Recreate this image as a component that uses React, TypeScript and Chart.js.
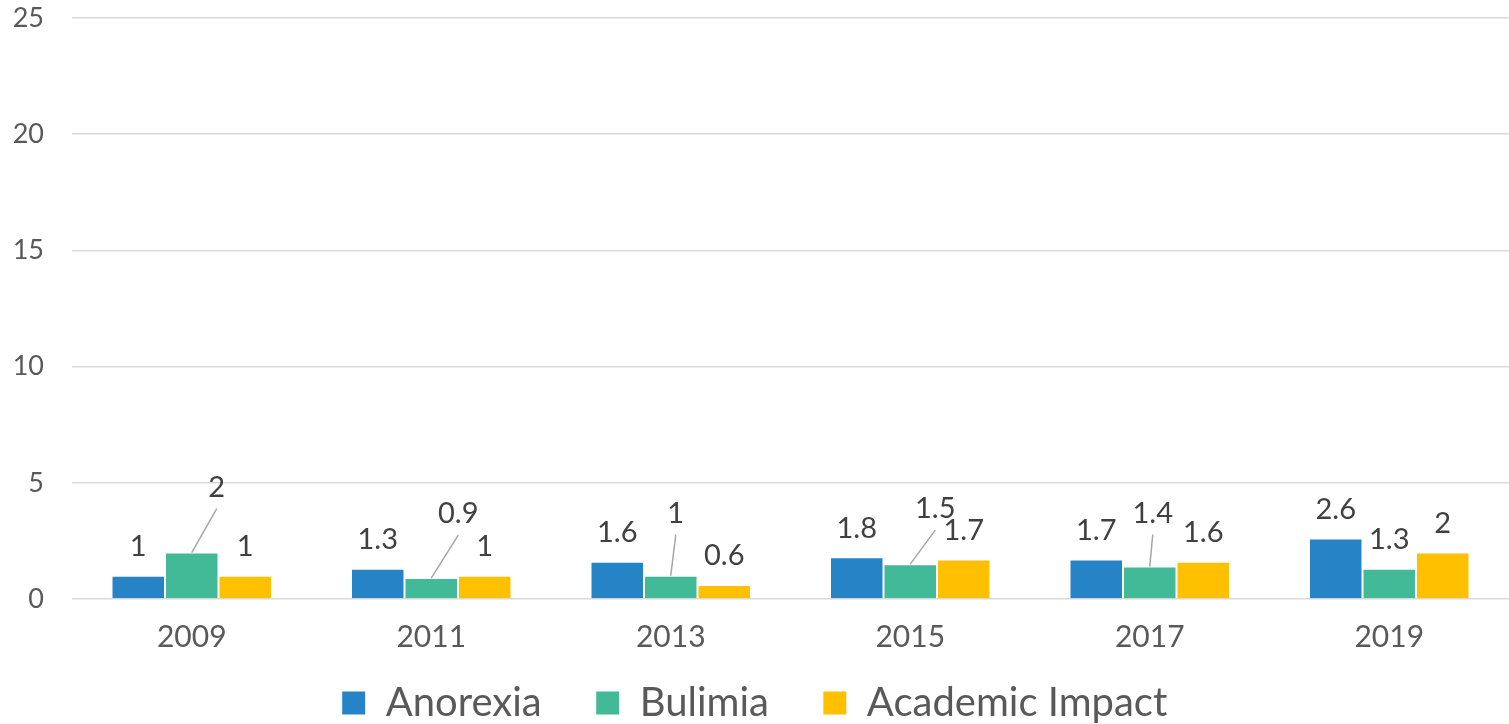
import React, { useEffect, useRef } from "react";
import { Chart, registerables } from "chart.js";

Chart.register(...registerables);

const categories = ["2009", "2011", "2013", "2015", "2017", "2019"];
const anorexia = [1, 1.3, 1.6, 1.8, 1.7, 2.6];
const bulimia = [2, 0.9, 1, 1.5, 1.4, 1.3];
const academicImpact = [1, 1, 0.6, 1.7, 1.6, 2];
const yTicks = [0, 5, 10, 15, 20, 25];

// manual label displacement (px) per dataset, as in the original (leader lines)
const labelOffsets: number[][][] = [
  [[0, 0], [0, 0], [0, 0], [0, 0], [0, 0], [0, 0]],
  [[25, -36], [27, -35], [5, -33], [25, -26], [3, -24], [0, 0]],
  [[0, 0], [0, 0], [0, 0], [0, 0], [0, 0], [0, 0]],
];

const FONT = "Lato, 'Open Sans', sans-serif";

const barLabels = {
  id: "barLabels",
  afterDatasetsDraw(chart: any) {
    const ctx = chart.ctx;
    ctx.save();
    ctx.font = `29px ${FONT}`;
    ctx.textAlign = "center";
    ctx.textBaseline = "middle";
    chart.data.datasets.forEach((ds: any, di: number) => {
      const meta = chart.getDatasetMeta(di);
      meta.data.forEach((bar: any, i: number) => {
        const v = ds.data[i];
        const off = labelOffsets[di][i];
        const x = bar.x + off[0];
        const y = bar.y - 29 + off[1];
        if (off[0] !== 0 || off[1] !== 0) {
          ctx.strokeStyle = "#a6a6a6";
          ctx.lineWidth = 1.5;
          ctx.beginPath();
          ctx.moveTo(bar.x, bar.y);
          ctx.lineTo(x, y + 21);
          ctx.stroke();
        }
        ctx.fillStyle = "#404040";
        ctx.fillText(String(v), x, y);
      });
    });
    ctx.restore();
  },
};

export default function App() {
  const ref = useRef<HTMLCanvasElement | null>(null);
  useEffect(() => {
    if (!ref.current) return;
    const chart = new Chart(ref.current, {
      type: "bar",
      data: {
        labels: categories,
        datasets: [
          { label: "Anorexia", data: anorexia, backgroundColor: "#2683C6", borderColor: "#ffffff", borderWidth: 1 },
          { label: "Bulimia", data: bulimia, backgroundColor: "#42BA97", borderColor: "#ffffff", borderWidth: 1 },
          { label: "Academic Impact", data: academicImpact, backgroundColor: "#FFC000", borderColor: "#ffffff", borderWidth: 1 },
        ],
      },
      options: {
        animation: false,
        responsive: true,
        maintainAspectRatio: false,
        datasets: { bar: { categoryPercentage: 0.67, barPercentage: 1 } },
        layout: { padding: { top: 0, left: 0, right: 0, bottom: -9 } },
        scales: {
          x: {
            grid: { display: false, drawTicks: false },
            border: { display: false },
            ticks: { color: "#595959", font: { size: 30, family: FONT }, padding: 20 },
            afterFit: (s: any) => {
              s.height = 30;
              s.paddingLeft = 0;
              s.paddingRight = 0;
              // let the tick labels extend below the (short) axis box
              s._computeLabelArea = () => undefined;
            },
          },
          y: {
            min: 0,
            max: 25,
            afterBuildTicks: (s: any) => { s.ticks = yTicks.map((v) => ({ value: v })); },
            grid: { color: "#d9d9d9", lineWidth: 1.5, drawTicks: false },
            border: { display: false },
            ticks: { color: "#595959", font: { size: 27, family: FONT }, padding: 28 },
            afterFit: (s: any) => { s.width = 72; s.paddingTop = 18; s.paddingBottom = 0; },
          },
        },
        plugins: {
          legend: {
            position: "bottom",
            labels: {
              color: "#595959",
              font: { size: 40, family: FONT },
              boxWidth: 24,
              boxHeight: 24,
              padding: 54,
            },
          },
          tooltip: { enabled: false },
        },
      },
      plugins: [barLabels],
    });
    return () => chart.destroy();
  }, []);
  return (
    <div style={{ position: "fixed", left: 0, top: 0, width: 1509, height: 724, background: "#fff" }}>
      <canvas ref={ref} />
    </div>
  );
}
